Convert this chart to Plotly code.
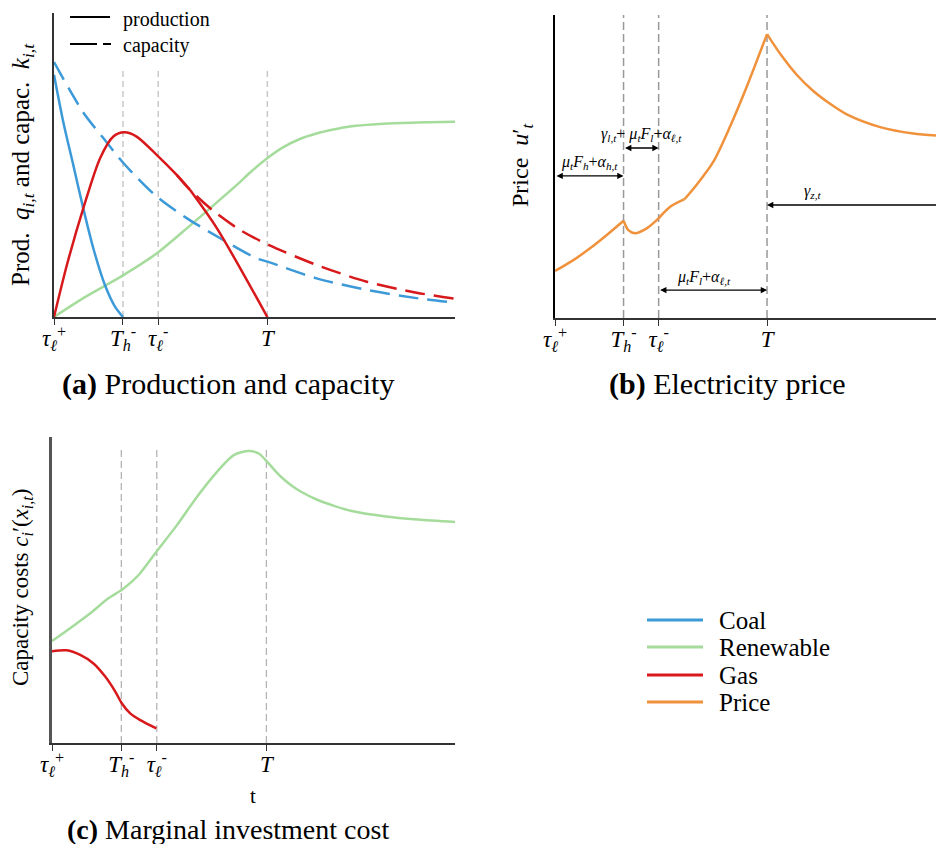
import plotly.graph_objects as go

# the page adds an 8px body margin, so the figure is drawn 16px smaller
# and every position below is given in screen pixels of the target image
W, H = 928, 836
OFF = 8

# time ticks shared by all three panels
tick_t = [0.0, 1.72, 2.6, 5.32]
tick_text = ['<i>τ</i><sub><i>ℓ</i></sub><sup>+</sup>', '<i>T</i><sub><i>h</i></sub><sup>-</sup>',
             '<i>τ</i><sub><i>ℓ</i></sub><sup>-</sup>', '<i>T</i>']
vline_t = [1.72, 2.6, 5.32]

# (a) production and capacity
coal_prod_t = [0.0, 0.23, 0.48, 0.73, 0.98, 1.27, 1.52, 1.72]
coal_prod = [0.796, 0.642, 0.50, 0.357, 0.226, 0.105, 0.034, 0.0]
coal_cap_t = [0.0, 0.73, 1.23, 1.73, 2.56, 3.31, 4.22, 5.05, 5.32, 6.55, 7.80, 9.04, 10.0]
coal_cap = [0.838, 0.672, 0.588, 0.506, 0.396, 0.325, 0.253, 0.193, 0.182, 0.127, 0.089, 0.062, 0.047]
gas_prod_t = [0.0, 0.32, 0.73, 1.15, 1.48, 1.75, 2.06, 2.56, 3.06, 3.39]
gas_prod = [0.0, 0.17, 0.357, 0.522, 0.593, 0.607, 0.593, 0.533, 0.467, 0.418]
gas_prod_end_t = [3.39, 4.06, 5.32]
gas_prod_end = [0.418, 0.292, 0.0]
gas_cap_t = [3.06, 3.39, 3.97, 4.64, 5.35, 6.55, 7.80, 9.04, 10.0]
gas_cap = [0.467, 0.418, 0.349, 0.286, 0.237, 0.171, 0.116, 0.080, 0.060]
ren_prod_t = [0.0, 0.73, 1.71, 2.56, 3.22, 3.89, 4.56, 4.89, 5.30, 5.72, 6.13, 6.55, 6.97, 7.38, 8.21, 9.04, 10.0]
ren_prod = [0.0, 0.062, 0.136, 0.209, 0.281, 0.357, 0.434, 0.475, 0.520, 0.558, 0.585, 0.603, 0.616,
            0.626, 0.635, 0.639, 0.642]

# (b) electricity price, in pieces between the kinks
price_t = [[0.0, 0.46, 0.88, 1.30, 1.72],
           [1.72, 1.84, 2.01, 2.30, 2.60],
           [2.60, 2.89, 3.25],
           [3.25, 3.55, 3.97, 4.39, 4.81, 5.32],
           [5.32, 5.65, 6.07, 6.48, 6.90, 7.32, 8.16, 8.99, 9.76]]
price = [[0.155, 0.191, 0.23, 0.274, 0.321],
         [0.321, 0.29, 0.28, 0.296, 0.329],
         [0.329, 0.367, 0.392],
         [0.392, 0.439, 0.515, 0.631, 0.763, 0.937],
         [0.937, 0.872, 0.802, 0.749, 0.707, 0.672, 0.630, 0.609, 0.601]]

# (c) marginal investment cost
ren_cost_t = [0.0, 0.45, 0.95, 1.40, 1.76, 2.15, 2.59, 3.10, 3.60, 4.10, 4.51, 4.88, 5.13, 5.34,
              5.55, 5.75, 5.96, 6.17, 6.58, 7.00, 7.41, 8.24, 9.07, 10.0]
ren_cost = [0.333, 0.375, 0.424, 0.473, 0.503, 0.549, 0.625, 0.712, 0.805, 0.887, 0.941, 0.954,
            0.946, 0.919, 0.888, 0.862, 0.840, 0.822, 0.795, 0.775, 0.759, 0.741, 0.730, 0.722]
gas_cost_t = [0.0, 0.36, 0.70, 1.03, 1.32, 1.57, 1.73, 1.94, 2.19, 2.59]
gas_cost = [0.30, 0.303, 0.288, 0.26, 0.217, 0.168, 0.13, 0.097, 0.075, 0.048]

COAL = '#3d9ad8'
REN = '#a5dc9c'
GAS = '#d7191c'
PRICE = '#f0913c'
FONT = 'Liberation Serif'
LW = 2.5
DASH = '20px,9px'


def px(x):
    return (x - OFF) / W


def py(y):
    return 1 - (y - OFF) / H


fig = go.Figure()

def line(x, y, color, xa, ya, dash='solid', shape='spline', name=None):
    fig.add_trace(go.Scatter(x=x, y=y, mode='lines', xaxis=xa, yaxis=ya, name=name, showlegend=False,
                             line=dict(color=color, width=LW, dash=dash, shape=shape, smoothing=0.8)))

# panel a
line(ren_prod_t, ren_prod, REN, 'x', 'y', name='Renewable')
line(coal_cap_t, coal_cap, COAL, 'x', 'y', dash=DASH, name='Coal capacity')
line(gas_cap_t, gas_cap, GAS, 'x', 'y', dash=DASH, name='Gas capacity')
line(coal_prod_t, coal_prod, COAL, 'x', 'y', name='Coal')
line(gas_prod_t, gas_prod, GAS, 'x', 'y', name='Gas')
line(gas_prod_end_t, gas_prod_end, GAS, 'x', 'y', name='Gas')

# panel b
for seg_t, seg in zip(price_t, price):
    line(seg_t, seg, PRICE, 'x2', 'y2', name='Price')

# panel c
line(ren_cost_t, ren_cost, REN, 'x3', 'y3', name='Renewable')
line(gas_cost_t, gas_cost, GAS, 'x3', 'y3', name='Gas')

xcommon = dict(showgrid=False, zeroline=False, showline=True, linecolor='#333333', linewidth=1.5,
               ticks='outside', ticklen=6, tickwidth=1.3, tickcolor='#333333', automargin=False,
               tickvals=tick_t, ticktext=tick_text, ticklabelstandoff=-6,
               tickfont=dict(family=FONT, size=23, color='black'))
ycommon = dict(showgrid=False, zeroline=False, showline=True, linecolor='#333333', linewidth=1.5,
               showticklabels=False, ticks='', range=[0, 1], automargin=False)

fig.update_layout(
    width=W, height=H, autosize=False, margin=dict(l=0, r=0, t=0, b=0, pad=0),
    plot_bgcolor='white', paper_bgcolor='white', showlegend=False,
    font=dict(family=FONT, color='black'),
    xaxis=dict(xcommon, domain=[px(54), px(455)], range=[0, 10], anchor='y'),
    yaxis=dict(ycommon, domain=[py(317), py(12.7)], anchor='x'),
    xaxis2=dict(xcommon, domain=[px(555), 1.0], range=[0, 9.76 * (W + OFF - 555) / (944 - 555)], anchor='y2'),
    yaxis2=dict(ycommon, domain=[py(318), py(15)], anchor='x2', linecolor='black'),
    xaxis3=dict(xcommon, domain=[px(52), px(455)], range=[0, 10], anchor='y3'),
    yaxis3=dict(ycommon, domain=[py(743), py(437)], anchor='x3', linecolor='#555555', linewidth=2.5),
)

shapes = []
for t in vline_t:
    shapes.append(dict(type='line', xref='x', yref='y', x0=t, x1=t, y0=0, y1=0.82, layer='below',
                       line=dict(color='#c8c8c8', width=1.5, dash='6px,4px')))
    shapes.append(dict(type='line', xref='x2', yref='y2', x0=t, x1=t, y0=0, y1=1, layer='below',
                       line=dict(color='#999999', width=1.5, dash='8px,4px')))
    shapes.append(dict(type='line', xref='x3', yref='y3', x0=t, x1=t, y0=0, y1=0.964, layer='below',
                       line=dict(color='#b4b4b4', width=1.3, dash='7px,4px')))

# legend keys for panel a (line style)
shapes.append(dict(type='line', xref='paper', yref='paper', x0=px(70), x1=px(110), y0=py(17), y1=py(17),
                   line=dict(color='black', width=2)))
shapes.append(dict(type='line', xref='paper', yref='paper', x0=px(70), x1=px(111), y0=py(44), y1=py(44),
                   line=dict(color='black', width=2, dash='27px,6px')))

# main legend keys
legend_names = ['Coal', 'Renewable', 'Gas', 'Price']
legend_colors = [COAL, REN, GAS, PRICE]
legend_y = [620, 647, 675, 702]
for c, yy in zip(legend_colors, legend_y):
    shapes.append(dict(type='line', xref='paper', yref='paper', x0=px(647), x1=px(703), y0=py(yy), y1=py(yy),
                       line=dict(color=c, width=3)))

ann = []
def text(x, y, s, size, xanchor='center', angle=0):
    ann.append(dict(x=px(x), y=py(y), xref='paper', yref='paper', text=s, showarrow=False,
                    xanchor=xanchor, yanchor='middle', textangle=angle,
                    font=dict(family=FONT, size=size, color='black')))

for n, yy in zip(legend_names, legend_y):
    text(717, yy, n, 25, xanchor='left')
text(121, 20, 'production', 20, xanchor='left')
text(121, 45, 'capacity', 20, xanchor='left')

text(22, 165, 'Prod.  <i>q</i><sub><i>i,t</i></sub> and capac.  <i>k</i><sub><i>i,t</i></sub>', 25, angle=-90)
text(522, 165, 'Price  <i>u</i>′<sub><i>t</i></sub>', 24, angle=-90)
text(22, 587, 'Capacity costs <i>c</i><sub><i>i</i></sub>′(<i>x</i><sub><i>i,t</i></sub>)', 23, angle=-90)
text(253, 796, 't', 21)

text(228, 384, '<b>(a)</b> Production and capacity', 30)
text(727, 384, '<b>(b)</b> Electricity price', 30)
text(228, 829, '<b>(c)</b> Marginal investment cost', 28)

# price decomposition arrows in panel b
arrows = [(0.0, 1.72, 0.469), (1.72, 2.6, 0.561), (2.6, 5.32, 0.092)]
for x0, x1, yv in arrows:
    ann.append(dict(x=x1, y=yv, ax=x0, ay=yv, xref='x2', yref='y2', axref='x2', ayref='y2', text='',
                    showarrow=True, arrowhead=2, arrowsize=0.9, arrowwidth=1.4, arrowside='end+start',
                    arrowcolor='black', standoff=0, startstandoff=0))
ann.append(dict(x=5.32, y=0.373, ax=9.76, ay=0.373, xref='x2', yref='y2', axref='x2', ayref='y2', text='',
                showarrow=True, arrowhead=2, arrowsize=0.9, arrowwidth=1.4, arrowcolor='black', standoff=0))

def ptext(t, v, s):
    ann.append(dict(x=t, y=v, xref='x2', yref='y2', text=s, showarrow=False,
                    font=dict(family=FONT, size=16, color='black')))

ptext(0.86, 0.512, '<i>μ<sub>t</sub>F<sub>h</sub></i>+<i>α<sub>h,t</sub></i>')
ptext(2.18, 0.604, '<i>γ<sub>l,t</sub></i>+ <i>μ<sub>t</sub>F<sub>l</sub></i>+<i>α<sub>ℓ,t</sub></i>')
ptext(3.73, 0.135, '<i>μ<sub>t</sub>F<sub>l</sub></i>+<i>α<sub>ℓ,t</sub></i>')
ptext(6.47, 0.416, '<i>γ<sub>z,t</sub></i>')

fig.update_layout(shapes=shapes, annotations=ann)

fig.write_html("out.html")
